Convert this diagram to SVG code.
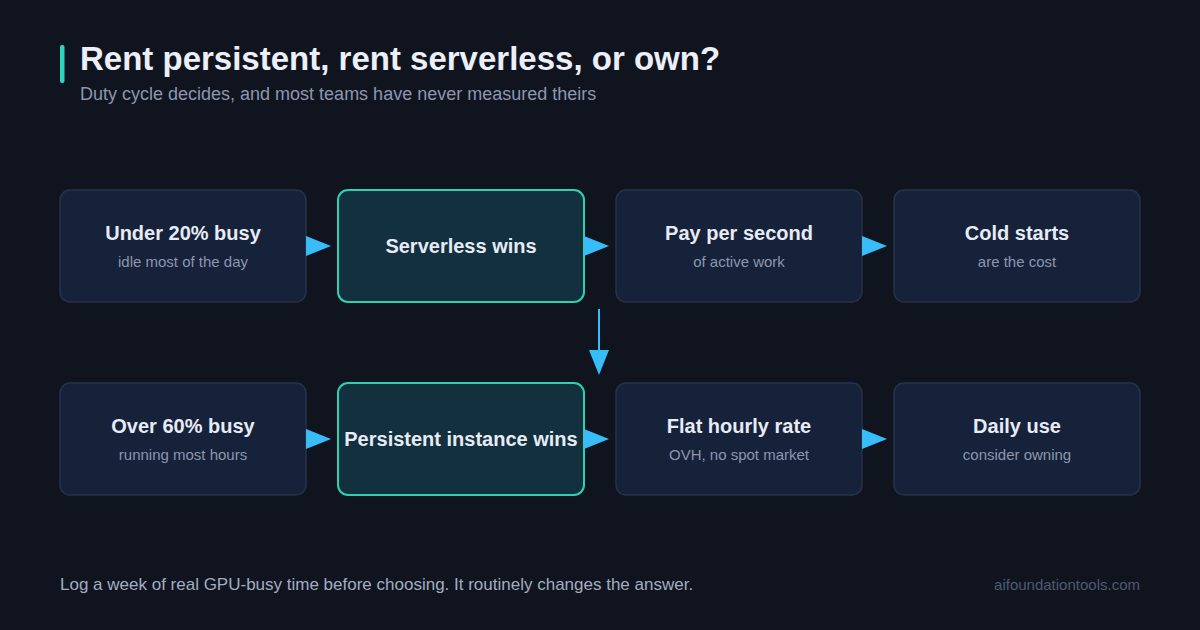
<svg xmlns="http://www.w3.org/2000/svg" width="1200" height="630" viewBox="0 0 1200 630">
<style>
.box{fill:#16213a;stroke:#26324a;stroke-width:1.5}
.hl{fill:#13303e;stroke:#2fd0b0;stroke-width:2}
.t{font-family:"Liberation Sans",Arial,sans-serif;font-weight:bold;font-size:20px;fill:#e6ebf5;text-anchor:middle}
.s{font-family:"Liberation Sans",Arial,sans-serif;font-size:15px;fill:#8c97ad;text-anchor:middle}
.arr{fill:#38bdf8}
</style>
<rect width="1200" height="630" fill="#10141f"/>
<rect x="60" y="45" width="4.5" height="38" rx="2" fill="#2dd4bf"/>
<text x="80" y="70" font-family="'Liberation Sans',Arial,sans-serif" font-weight="bold" font-size="33" fill="#eceff7">Rent persistent, rent serverless, or own?</text>
<text x="80" y="100" font-family="'Liberation Sans',Arial,sans-serif" font-size="18" fill="#8c97ad">Duty cycle decides, and most teams have never measured theirs</text>
<g id="n1"><rect class="box" x="60" y="190" width="246" height="112" rx="10"/><text class="t" x="183" y="240">Under 20% busy</text><text class="s" x="183" y="267">idle most of the day</text></g>
<g id="n2"><rect class="hl" x="338" y="190" width="246" height="112" rx="10"/><text class="t" x="461" y="253">Serverless wins</text></g>
<g id="n3"><rect class="box" x="616" y="190" width="246" height="112" rx="10"/><text class="t" x="739" y="240">Pay per second</text><text class="s" x="739" y="267">of active work</text></g>
<g id="n4"><rect class="box" x="894" y="190" width="246" height="112" rx="10"/><text class="t" x="1017" y="240">Cold starts</text><text class="s" x="1017" y="267">are the cost</text></g>
<g id="n5"><rect class="box" x="60" y="383" width="246" height="112" rx="10"/><text class="t" x="183" y="433">Over 60% busy</text><text class="s" x="183" y="460">running most hours</text></g>
<g id="n6"><rect class="hl" x="338" y="383" width="246" height="112" rx="10"/><text class="t" x="461" y="446">Persistent instance wins</text></g>
<g id="n7"><rect class="box" x="616" y="383" width="246" height="112" rx="10"/><text class="t" x="739" y="433">Flat hourly rate</text><text class="s" x="739" y="460">OVH, no spot market</text></g>
<g id="n8"><rect class="box" x="894" y="383" width="246" height="112" rx="10"/><text class="t" x="1017" y="433">Daily use</text><text class="s" x="1017" y="460">consider owning</text></g>
<g id="connectors">
<polygon class="arr" points="306,236 331,246 306,256"/>
<polygon class="arr" points="584,236 609,246 584,256"/>
<polygon class="arr" points="862,236 887,246 862,256"/>
<polygon class="arr" points="306,429 331,439 306,449"/>
<polygon class="arr" points="584,429 609,439 584,449"/>
<polygon class="arr" points="862,429 887,439 862,449"/>
<line x1="599" y1="309" x2="599" y2="352" stroke="#38bdf8" stroke-width="2"/>
<polygon class="arr" points="589,350 609,350 599,375"/>
</g>
<text x="60" y="590" font-family="'Liberation Sans',Arial,sans-serif" font-size="17" fill="#a3adc0">Log a week of real GPU-busy time before choosing. It routinely changes the answer.</text>
<text x="1140" y="590" text-anchor="end" font-family="'Liberation Sans',Arial,sans-serif" font-size="15" fill="#4f5a70">aifoundationtools.com</text>
</svg>
